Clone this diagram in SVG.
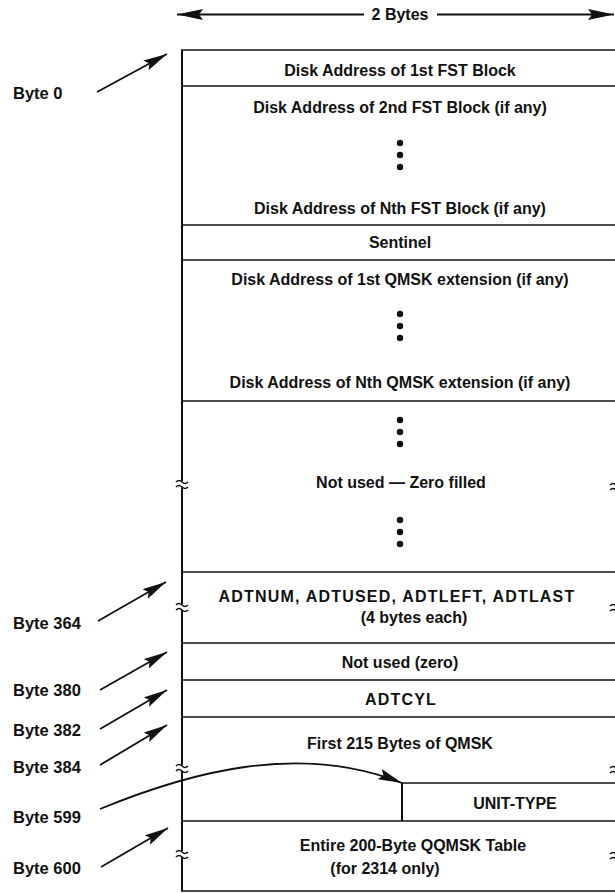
<svg xmlns="http://www.w3.org/2000/svg" width="615" height="893" viewBox="0 0 615 893">
  <style>
    text { font-family: "Liberation Sans", Arial, sans-serif; font-weight: bold; font-size: 16px; fill: #111; }
    .c { text-anchor: middle; }
    .wide { letter-spacing: 1.2px; }
    .lbl { font-size: 16.5px; }
    .rule { stroke: #111; stroke-width: 1.6; fill: none; }
    .edge { stroke: #111; stroke-width: 2; fill: none; }
    .ptr { stroke: #111; stroke-width: 1.8; fill: none; marker-end: url(#head); }
    .brk { stroke: #111; stroke-width: 1.6; fill: none; }
    .gap { fill: #fff; stroke: none; }
    .dot { fill: #111; }
  </style>
  <defs>
    <marker id="head" markerUnits="userSpaceOnUse" markerWidth="26" markerHeight="12" refX="24" refY="5.5" orient="auto">
      <path d="M0,0 L24,5.5 L0,11 L4,5.5 Z" fill="#111"/>
    </marker>
    <marker id="wide" markerUnits="userSpaceOnUse" markerWidth="28" markerHeight="12" refX="26" refY="5.5" orient="auto">
      <path d="M0,0 L26,5.5 L0,11 L4,5.5 Z" fill="#111"/>
    </marker>
  </defs>

  <!-- width dimension -->
  <g id="width-dim">
    <line x1="364" y1="14.5" x2="177" y2="14.5" class="edge" marker-end="url(#wide)"/>
    <line x1="437" y1="14.5" x2="614" y2="14.5" class="edge" marker-end="url(#wide)"/>
    <text x="400" y="20" class="c">2 Bytes</text>
  </g>

  <!-- record layout -->
  <g id="layout">
    <line x1="182" y1="50" x2="182" y2="891" class="edge"/>
    <line x1="181" y1="50" x2="615" y2="50" class="rule"/>
    <line x1="181" y1="891" x2="615" y2="891" class="rule"/>
  </g>

  <g id="fst1"><text x="400" y="76" class="c">Disk Address of 1st FST Block</text>
    <line x1="182" y1="86" x2="615" y2="86" class="rule"/></g>

  <g id="fstn">
    <text x="400" y="113" class="c">Disk Address of 2nd FST Block (if any)</text>
    <circle cx="400" cy="143" r="3.2" class="dot"/><circle cx="400" cy="155" r="3.2" class="dot"/><circle cx="400" cy="167" r="3.2" class="dot"/>
    <text x="400" y="214" class="c">Disk Address of Nth FST Block (if any)</text>
    <line x1="182" y1="225" x2="615" y2="225" class="rule"/>
  </g>

  <g id="sentinel"><text x="400" y="248" class="c">Sentinel</text>
    <line x1="182" y1="260" x2="615" y2="260" class="rule"/></g>

  <g id="qmsk-ext">
    <text x="400" y="285" class="c">Disk Address of 1st QMSK extension (if any)</text>
    <circle cx="400" cy="314" r="3.2" class="dot"/><circle cx="400" cy="326" r="3.2" class="dot"/><circle cx="400" cy="338" r="3.2" class="dot"/>
    <text x="400" y="388" class="c">Disk Address of Nth QMSK extension (if any)</text>
    <line x1="182" y1="401" x2="615" y2="401" class="rule"/>
  </g>

  <g id="unused">
    <circle cx="400" cy="420" r="3.2" class="dot"/><circle cx="400" cy="432" r="3.2" class="dot"/><circle cx="400" cy="444" r="3.2" class="dot"/>
    <text x="401" y="488" class="c">Not used — Zero filled</text>
    <circle cx="400" cy="520" r="3.2" class="dot"/><circle cx="400" cy="532" r="3.2" class="dot"/><circle cx="400" cy="544" r="3.2" class="dot"/>
    <line x1="182" y1="572" x2="615" y2="572" class="rule"/>
  </g>

  <g id="adt">
    <text x="397" y="602" class="c wide">ADTNUM, ADTUSED, ADTLEFT, ADTLAST</text>
    <text x="414" y="623" class="c">(4 bytes each)</text>
    <line x1="182" y1="643" x2="615" y2="643" class="rule"/>
  </g>

  <g id="zero"><text x="400" y="668" class="c">Not used (zero)</text>
    <line x1="182" y1="680" x2="615" y2="680" class="rule"/></g>

  <g id="adtcyl"><text x="401" y="705" class="c wide">ADTCYL</text>
    <line x1="182" y1="717" x2="615" y2="717" class="rule"/></g>

  <g id="qmsk"><text x="400" y="749" class="c">First 215 Bytes of QMSK</text></g>

  <g id="unit-type">
    <line x1="402" y1="783" x2="402" y2="821" class="edge"/>
    <line x1="402" y1="783" x2="615" y2="783" class="rule"/>
    <text x="515" y="809" class="c">UNIT-TYPE</text>
    <line x1="182" y1="821" x2="615" y2="821" class="rule"/>
  </g>

  <g id="qqmsk">
    <text x="413" y="851" class="c">Entire 200-Byte QQMSK Table</text>
    <text x="385" y="874" class="c">(for 2314 only)</text>
  </g>

  <!-- break marks on the edges -->
  <g id="breaks">
    <rect x="178" y="481" width="8" height="6" class="gap"/>
    <path d="M176,482 q3,-3 6,0 t6,0 M176,487 q3,-3 6,0 t6,0" class="brk"/>
    <rect x="178" y="604" width="8" height="6" class="gap"/>
    <path d="M176,605 q3,-3 6,0 t6,0 M176,610 q3,-3 6,0 t6,0" class="brk"/>
    <rect x="178" y="765" width="8" height="6" class="gap"/>
    <path d="M176,766 q3,-3 6,0 t6,0 M176,771 q3,-3 6,0 t6,0" class="brk"/>
    <rect x="178" y="851" width="8" height="6" class="gap"/>
    <path d="M176,852 q3,-3 6,0 t6,0 M176,857 q3,-3 6,0 t6,0" class="brk"/>
    <path d="M610,485 q3,-3 6,0 M610,490 q3,-3 6,0" class="brk"/>
    <path d="M610,606 q3,-3 6,0 M610,611 q3,-3 6,0" class="brk"/>
    <path d="M610,768 q3,-3 6,0 M610,773 q3,-3 6,0" class="brk"/>
    <path d="M610,854 q3,-3 6,0 M610,859 q3,-3 6,0" class="brk"/>
  </g>

  <!-- byte offset labels -->
  <g id="byte-0"><text x="13" y="99" class="lbl">Byte 0</text></g>
  <g id="byte-364"><text x="13" y="629" class="lbl">Byte 364</text></g>
  <g id="byte-380"><text x="13" y="696" class="lbl">Byte 380</text></g>
  <g id="byte-382"><text x="13" y="736" class="lbl">Byte 382</text></g>
  <g id="byte-384"><text x="13" y="773" class="lbl">Byte 384</text></g>
  <g id="byte-599"><text x="13" y="823" class="lbl">Byte 599</text></g>
  <g id="byte-600"><text x="13" y="874" class="lbl">Byte 600</text></g>

  <!-- pointers -->
  <g id="connectors">
    <line x1="97" y1="92" x2="167" y2="54" class="ptr"/>
    <line x1="98" y1="621" x2="166" y2="582" class="ptr"/>
    <line x1="100" y1="690" x2="167" y2="652" class="ptr"/>
    <line x1="100" y1="729" x2="167" y2="690" class="ptr"/>
    <line x1="100" y1="765" x2="167" y2="725" class="ptr"/>
    <path d="M100,809 C190,772 300,742 402,783" class="ptr"/>
    <line x1="101" y1="867" x2="168" y2="828" class="ptr"/>
  </g>
</svg>
